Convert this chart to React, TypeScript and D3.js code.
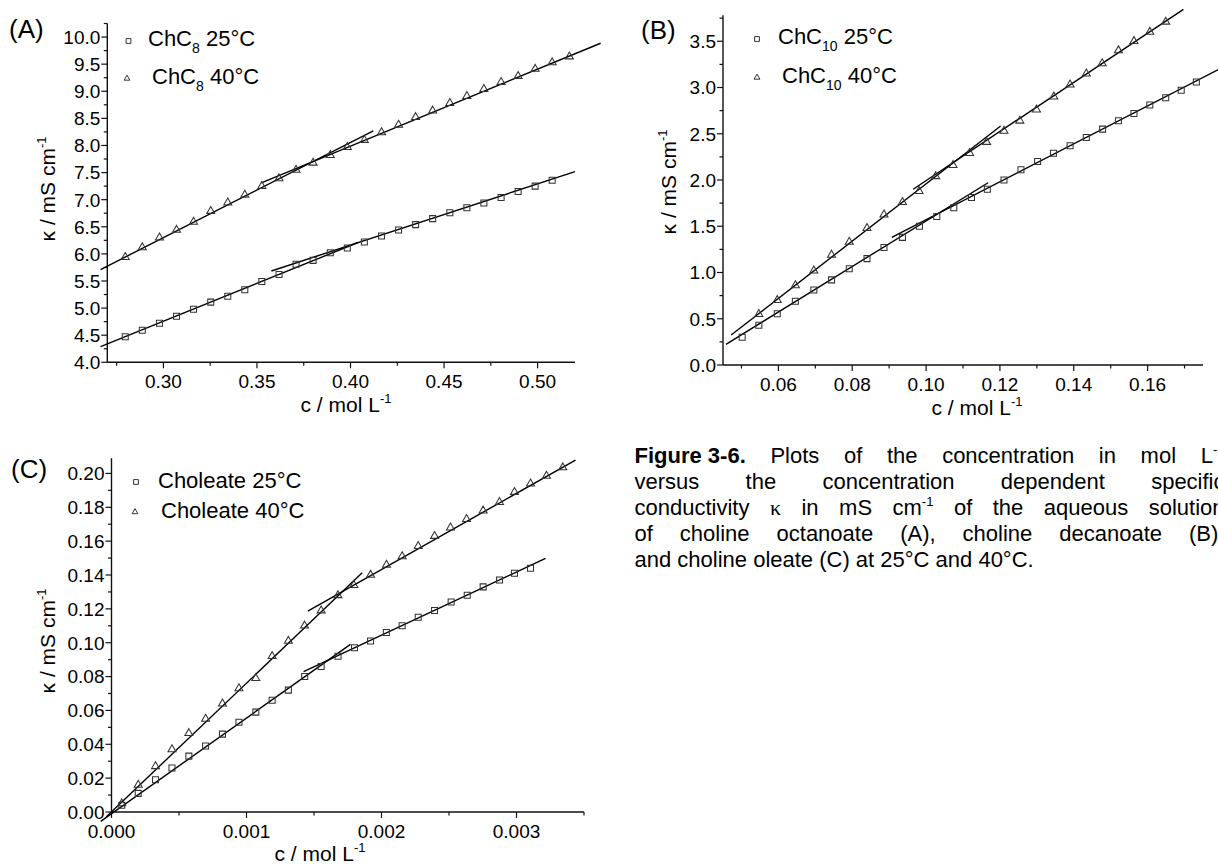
import React, { useMemo } from 'react';
import * as d3 from 'd3';

const SANS = "'Liberation Sans', Arial, Helvetica, sans-serif";
const SERIF = "'Liberation Serif', 'Times New Roman', serif";

// ---------------- Panel A : choline octanoate (ChC8) ----------------
const aConc25 = [0.2796, 0.2887, 0.2979, 0.307, 0.3161, 0.3253, 0.3344, 0.3435, 0.3526, 0.3618, 0.3709, 0.38, 0.3892, 0.3983, 0.4074, 0.4166, 0.4257, 0.4348, 0.4439, 0.4531, 0.4622, 0.4713, 0.4805, 0.4896, 0.4987, 0.5078];
const aKappa25 = [4.47, 4.59, 4.72, 4.85, 4.98, 5.11, 5.22, 5.34, 5.49, 5.62, 5.81, 5.88, 6.02, 6.11, 6.22, 6.33, 6.44, 6.54, 6.65, 6.76, 6.85, 6.94, 7.04, 7.15, 7.25, 7.36];
const aConc40 = [0.2796, 0.2887, 0.2979, 0.307, 0.3161, 0.3253, 0.3344, 0.3435, 0.3526, 0.3618, 0.3709, 0.38, 0.3892, 0.3983, 0.4074, 0.4166, 0.4257, 0.4348, 0.4439, 0.4531, 0.4622, 0.4713, 0.4805, 0.4896, 0.4987, 0.5078, 0.517];
const aKappa40 = [5.94, 6.12, 6.3, 6.44, 6.59, 6.79, 6.945, 7.09, 7.25, 7.39, 7.55, 7.68, 7.82, 7.97, 8.1, 8.24, 8.38, 8.52, 8.64, 8.78, 8.91, 9.04, 9.17, 9.28, 9.41, 9.53, 9.64];
// linear fits: [c1, k1, c2, k2]
const aFits25 = [[0.2664, 4.29, 0.404, 6.21], [0.3577, 5.685, 0.52, 7.517]];
const aFits40 = [[0.2664, 5.71, 0.4122, 8.27], [0.3523, 7.31, 0.5337, 9.886]];
const aXTicks = [0.3, 0.35, 0.4, 0.45, 0.5];
const aXTickLabels = ['0.30', '0.35', '0.40', '0.45', '0.50'];
const aXMinor = [0.275, 0.325, 0.375, 0.425, 0.475];
const aYTicks = [4, 4.5, 5, 5.5, 6, 6.5, 7, 7.5, 8, 8.5, 9, 9.5, 10];
const aYTickLabels = ['4.0', '4.5', '5.0', '5.5', '6.0', '6.5', '7.0', '7.5', '8.0', '8.5', '9.0', '9.5', '10.0'];
const aYMinor = [4.25, 4.75, 5.25, 5.75, 6.25, 6.75, 7.25, 7.75, 8.25, 8.75, 9.25, 9.75, 10.25];

// ---------------- Panel B : choline decanoate (ChC10) ----------------
const bConc25 = [0.0502, 0.0547, 0.0597, 0.0646, 0.0696, 0.0744, 0.0792, 0.084, 0.0886, 0.0936, 0.0982, 0.1029, 0.1075, 0.1123, 0.1166, 0.1211, 0.1257, 0.1302, 0.1345, 0.139, 0.1434, 0.1478, 0.1521, 0.1563, 0.1606, 0.1649, 0.1691, 0.1732];
const bKappa25 = [0.3, 0.43, 0.555, 0.69, 0.81, 0.92, 1.04, 1.15, 1.27, 1.38, 1.5, 1.605, 1.7, 1.81, 1.9, 2.0, 2.11, 2.2, 2.29, 2.37, 2.46, 2.55, 2.64, 2.72, 2.81, 2.89, 2.97, 3.06];
const bConc40 = [0.0547, 0.0597, 0.0646, 0.0696, 0.0744, 0.0792, 0.084, 0.0886, 0.0936, 0.0981, 0.1026, 0.1073, 0.1118, 0.1164, 0.1211, 0.1254, 0.1299, 0.1346, 0.139, 0.1434, 0.1477, 0.1521, 0.1563, 0.1606, 0.1649];
const bKappa40 = [0.55, 0.7, 0.86, 1.02, 1.19, 1.33, 1.48, 1.625, 1.76, 1.88, 2.04, 2.16, 2.29, 2.41, 2.53, 2.64, 2.76, 2.9, 3.03, 3.15, 3.26, 3.4, 3.5, 3.6, 3.71];
const bFits25 = [[0.0458, 0.224, 0.1168, 1.97], [0.0907, 1.38, 0.1793, 3.197]];
const bFits40 = [[0.0472, 0.324, 0.1202, 2.584], [0.0965, 1.9, 0.1697, 3.845]];
const bXTicks = [0.06, 0.08, 0.1, 0.12, 0.14, 0.16];
const bXTickLabels = ['0.06', '0.08', '0.10', '0.12', '0.14', '0.16'];
const bXMinor = [0.05, 0.07, 0.09, 0.11, 0.13, 0.15, 0.17];
const bYTicks = [0, 0.5, 1, 1.5, 2, 2.5, 3, 3.5];
const bYTickLabels = ['0.0', '0.5', '1.0', '1.5', '2.0', '2.5', '3.0', '3.5'];
const bYMinor = [0.25, 0.75, 1.25, 1.75, 2.25, 2.75, 3.25, 3.75];

// ---------------- Panel C : choline oleate (Choleate) ----------------
const cConc25 = [0.000076, 0.000198, 0.000326, 0.000448, 0.000573, 0.000697, 0.000822, 0.000944, 0.001069, 0.00119, 0.00131, 0.001431, 0.001553, 0.001678, 0.0018, 0.001919, 0.002036, 0.002153, 0.002272, 0.002393, 0.002516, 0.002635, 0.002753, 0.002874, 0.002985, 0.003104];
const cKappa25 = [0.004, 0.011, 0.019, 0.026, 0.033, 0.039, 0.046, 0.053, 0.059, 0.066, 0.072, 0.08, 0.086, 0.092, 0.097, 0.101, 0.106, 0.11, 0.115, 0.119, 0.124, 0.128, 0.133, 0.137, 0.141, 0.144];
const cConc40 = [0.000076, 0.000198, 0.000326, 0.000448, 0.000573, 0.000697, 0.000822, 0.000944, 0.001069, 0.00119, 0.00131, 0.00143, 0.001553, 0.001677, 0.001795, 0.001919, 0.002037, 0.002153, 0.002272, 0.002393, 0.002511, 0.00263, 0.002753, 0.002874, 0.002985, 0.003104, 0.003222, 0.003343];
const cKappa40 = [0.005, 0.016, 0.027, 0.037, 0.0465, 0.055, 0.064, 0.073, 0.079, 0.092, 0.101, 0.11, 0.119, 0.128, 0.134, 0.14, 0.146, 0.151, 0.157, 0.163, 0.168, 0.173, 0.178, 0.183, 0.189, 0.194, 0.1985, 0.2035];
const cFits25 = [[-0.00008, -0.0055, 0.00177, 0.099], [0.001423, 0.0829, 0.003215, 0.1498]];
const cFits40 = [[-0.00004, -0.003, 0.001857, 0.1413], [0.001454, 0.1187, 0.003437, 0.2079]];
const cXTicks = [0, 0.001, 0.002, 0.003];
const cXTickLabels = ['0.000', '0.001', '0.002', '0.003'];
const cXMinor = [0.0005, 0.0015, 0.0025, 0.0035];
const cYTicks = [0, 0.02, 0.04, 0.06, 0.08, 0.1, 0.12, 0.14, 0.16, 0.18, 0.2];
const cYTickLabels = ['0.00', '0.02', '0.04', '0.06', '0.08', '0.10', '0.12', '0.14', '0.16', '0.18', '0.20'];
const cYMinor = [0.01, 0.03, 0.05, 0.07, 0.09, 0.11, 0.13, 0.15, 0.17, 0.19];

// ---------------- Caption ----------------
type Word = { t: string; b?: boolean; sup?: string; serif?: boolean };
const captionLines: { words: Word[]; justify: boolean }[] = [
  { words: [{ t: 'Figure 3-6.', b: true }, { t: 'Plots' }, { t: 'of' }, { t: 'the' }, { t: 'concentration' }, { t: 'in' }, { t: 'mol' }, { t: 'L', sup: '-1' }], justify: true },
  { words: [{ t: 'versus' }, { t: 'the' }, { t: 'concentration' }, { t: 'dependent' }, { t: 'specific' }], justify: true },
  { words: [{ t: 'conductivity' }, { t: 'κ', serif: true }, { t: 'in' }, { t: 'mS' }, { t: 'cm', sup: '-1' }, { t: 'of' }, { t: 'the' }, { t: 'aqueous' }, { t: 'solution' }], justify: true },
  { words: [{ t: 'of' }, { t: 'choline' }, { t: 'octanoate' }, { t: '(A),' }, { t: 'choline' }, { t: 'decanoate' }, { t: '(B),' }], justify: true },
  { words: [{ t: 'and' }, { t: 'choline' }, { t: 'oleate' }, { t: '(C)' }, { t: 'at' }, { t: '25°C' }, { t: 'and' }, { t: '40°C.' }], justify: false },
];

const TICK_FS = 19;
const TITLE_FS = 21;
const LEGEND_FS = 22;
const LETTER_FS = 26;
const CAP_FS = 22;

type PanelSpec = {
  letter: string;
  letterPos: [number, number];
  xDomain: [number, number];
  xRange: [number, number];
  yDomain: [number, number];
  yRange: [number, number];
  xTicks: number[]; xTickLabels: string[]; xMinor: number[];
  yTicks: number[]; yTickLabels: string[]; yMinor: number[];
  series: { c: number[]; k: number[]; shape: 'square' | 'triangle'; fits: number[][] }[];
  legend: { shape: 'square' | 'triangle'; mx: number; my: number; tx: number; ty: number; base: string; sub?: string; rest: string }[];
  yTitle: [number, number];
  xTitle: [number, number];
};

function markerPath(shape: 'square' | 'triangle', size: number) {
  if (shape === 'square') return d3.symbol().type(d3.symbolSquare).size(size * size)() as string;
  return d3.symbol().type(d3.symbolTriangle).size((size * size * Math.sqrt(3)) / 4)() as string;
}

function Panel({ p }: { p: PanelSpec }) {
  const x = d3.scaleLinear().domain(p.xDomain).range(p.xRange);
  const y = d3.scaleLinear().domain(p.yDomain).range(p.yRange);
  const line = d3.line<number[]>().x((d) => x(d[0])).y((d) => y(d[1]));
  const x0 = p.xRange[0];
  const y0 = p.yRange[0];
  const sq = markerPath('square', 6);
  const tri = markerPath('triangle', 8);
  const sqL = markerPath('square', 4.8);
  const triL = markerPath('triangle', 5.8);
  return (
    <g>
      <text x={p.letterPos[0]} y={p.letterPos[1]} fontSize={LETTER_FS} fontFamily={SANS}>{p.letter}</text>
      {/* axes */}
      <line x1={x0} x2={x0} y1={y0} y2={y(p.yDomain[1])} stroke="#111" strokeWidth={1.4} />
      <line x1={x0} x2={x(p.xDomain[1])} y1={y0} y2={y0} stroke="#111" strokeWidth={1.4} />
      {p.yTicks.map((t, i) => (
        <g key={'yt' + i}>
          <line x1={x0 - 6} x2={x0} y1={y(t)} y2={y(t)} stroke="#111" strokeWidth={1.2} />
          <text x={x0 - 7} y={y(t)} dy="0.36em" textAnchor="end" fontSize={TICK_FS} fontFamily={SANS}>{p.yTickLabels[i]}</text>
        </g>
      ))}
      {p.yMinor.filter((t) => t <= p.yDomain[1] + 1e-9).map((t, i) => (
        <line key={'ym' + i} x1={x0 - 3.5} x2={x0} y1={y(t)} y2={y(t)} stroke="#111" strokeWidth={1.2} />
      ))}
      {p.xTicks.map((t, i) => (
        <g key={'xt' + i}>
          <line x1={x(t)} x2={x(t)} y1={y0} y2={y0 + 6} stroke="#111" strokeWidth={1.2} />
          <text x={x(t)} y={y0 + 26} textAnchor="middle" fontSize={TICK_FS} fontFamily={SANS}>{p.xTickLabels[i]}</text>
        </g>
      ))}
      {p.xMinor.filter((t) => t <= p.xDomain[1] + 1e-12).map((t, i) => (
        <line key={'xm' + i} x1={x(t)} x2={x(t)} y1={y0} y2={y0 + 3.5} stroke="#111" strokeWidth={1.2} />
      ))}
      {/* titles */}
      <text transform={`translate(${p.yTitle[0]},${p.yTitle[1]}) rotate(-90)`} textAnchor="middle" fontSize={TITLE_FS} fontFamily={SANS}>
        κ / mS cm<tspan fontSize={13} dy={-9}>-1</tspan>
      </text>
      <text x={p.xTitle[0]} y={p.xTitle[1]} textAnchor="middle" fontSize={TITLE_FS} fontFamily={SANS}>
        c / mol L<tspan fontSize={13} dy={-9}>-1</tspan>
      </text>
      {/* fits */}
      {p.series.map((s, si) => s.fits.map((f, fi) => (
        <path key={'f' + si + '-' + fi} d={line([[f[0], f[1]], [f[2], f[3]]]) as string} fill="none" stroke="#000" strokeWidth={1.4} />
      )))}
      {/* markers */}
      {p.series.map((s, si) => s.c.map((c, i) => (
        <path key={'m' + si + '-' + i} d={s.shape === 'square' ? sq : tri}
          transform={`translate(${x(c)},${y(s.k[i])})`} fill="none" stroke="#333" strokeWidth={1.05} />
      )))}
      {/* legend */}
      {p.legend.map((l, i) => (
        <g key={'lg' + i}>
          <path d={l.shape === 'square' ? sqL : triL} transform={`translate(${l.mx},${l.my})`} fill="none" stroke="#333" strokeWidth={1} />
          <text x={l.tx} y={l.ty} fontSize={LEGEND_FS} fontFamily={SANS}>
            {l.base}
            {l.sub ? <tspan fontSize={14} dy={7}>{l.sub}</tspan> : null}
            {l.sub ? <tspan dy={-7}>{l.rest}</tspan> : <tspan>{l.rest}</tspan>}
          </text>
        </g>
      ))}
    </g>
  );
}

const panels: PanelSpec[] = [
  {
    letter: '(A)', letterPos: [9, 38],
    xDomain: [0.27, 0.52], xRange: [107.3, 575],
    yDomain: [4.0, 10.25], yRange: [362.3, 23.5],
    xTicks: aXTicks, xTickLabels: aXTickLabels, xMinor: aXMinor,
    yTicks: aYTicks, yTickLabels: aYTickLabels, yMinor: aYMinor,
    series: [
      { c: aConc25, k: aKappa25, shape: 'square', fits: aFits25 },
      { c: aConc40, k: aKappa40, shape: 'triangle', fits: aFits40 },
    ],
    legend: [
      { shape: 'square', mx: 128.5, my: 41, tx: 148, ty: 46, base: 'ChC', sub: '8', rest: ' 25°C' },
      { shape: 'triangle', mx: 127, my: 78.5, tx: 152, ty: 84, base: 'ChC', sub: '8', rest: ' 40°C' },
    ],
    yTitle: [55, 189], xTitle: [346, 412],
  },
  {
    letter: '(B)', letterPos: [641, 39],
    xDomain: [0.045, 0.175], xRange: [723, 1203],
    yDomain: [0, 3.78], yRange: [365, 15.35],
    xTicks: bXTicks, xTickLabels: bXTickLabels, xMinor: bXMinor,
    yTicks: bYTicks, yTickLabels: bYTickLabels, yMinor: bYMinor,
    series: [
      { c: bConc25, k: bKappa25, shape: 'square', fits: bFits25 },
      { c: bConc40, k: bKappa40, shape: 'triangle', fits: bFits40 },
    ],
    legend: [
      { shape: 'square', mx: 757, my: 39, tx: 778, ty: 44, base: 'ChC', sub: '10', rest: ' 25°C' },
      { shape: 'triangle', mx: 757, my: 77.5, tx: 782, ty: 83, base: 'ChC', sub: '10', rest: ' 40°C' },
    ],
    yTitle: [676, 182], xTitle: [977, 415],
  },
  {
    letter: '(C)', letterPos: [11, 478],
    xDomain: [0, 0.0035], xRange: [111.5, 584],
    yDomain: [0, 0.209], yRange: [812, 458.2],
    xTicks: cXTicks, xTickLabels: cXTickLabels, xMinor: cXMinor,
    yTicks: cYTicks, yTickLabels: cYTickLabels, yMinor: cYMinor,
    series: [
      { c: cConc25, k: cKappa25, shape: 'square', fits: cFits25 },
      { c: cConc40, k: cKappa40, shape: 'triangle', fits: cFits40 },
    ],
    legend: [
      { shape: 'square', mx: 136, my: 482, tx: 158, ty: 488, rest: 'Choleate 25°C', base: '' },
      { shape: 'triangle', mx: 135, my: 512, tx: 161, ty: 518, rest: 'Choleate 40°C', base: '' },
    ],
    yTitle: [55, 641], xTitle: [320, 861],
  },
];

let measureCtx: CanvasRenderingContext2D | null = null;
function measure(text: string, size: number, bold = false, family = SANS) {
  if (!measureCtx) measureCtx = document.createElement('canvas').getContext('2d');
  if (!measureCtx) return text.length * size * 0.5;
  measureCtx.font = `${bold ? 'bold ' : ''}${size}px ${family}`;
  return measureCtx.measureText(text).width;
}

function Caption() {
  const X0 = 634.5;
  const W = 590;
  const BASE = 463;
  const LH = 26;
  const SUP_FS = 13;
  const layout = useMemo(() => captionLines.map((ln) => {
    const widths = ln.words.map((w) =>
      measure(w.t, CAP_FS, !!w.b, w.serif ? SERIF : SANS) + (w.sup ? measure(w.sup, SUP_FS) : 0));
    const total = widths.reduce((a, b) => a + b, 0);
    const gap = ln.justify ? (W - total) / (ln.words.length - 1) : measure(' ', CAP_FS);
    let cx = X0;
    return ln.words.map((w, i) => {
      const pos = cx;
      cx += widths[i] + gap;
      return { ...w, x: pos };
    });
  }), []);
  return (
    <g>
      {layout.map((ln, li) => ln.map((w, wi) => (
        <text key={li + '-' + wi} x={w.x} y={BASE + li * LH} fontSize={CAP_FS}
          fontFamily={w.serif ? SERIF : SANS} fontWeight={w.b ? 'bold' : 'normal'}>
          {w.t}
          {w.sup ? <tspan fontSize={SUP_FS} fontFamily={SANS} dy={-9}>{w.sup}</tspan> : null}
        </text>
      )))}
    </g>
  );
}

export default function App() {
  return (
    <svg width={1218} height={865} style={{ position: 'absolute', left: 0, top: 0, background: '#fff', overflow: 'hidden' }}>
      <rect x={0} y={0} width={1218} height={865} fill="#fff" />
      {panels.map((p, i) => <Panel key={i} p={p} />)}
      <Caption />
    </svg>
  );
}
